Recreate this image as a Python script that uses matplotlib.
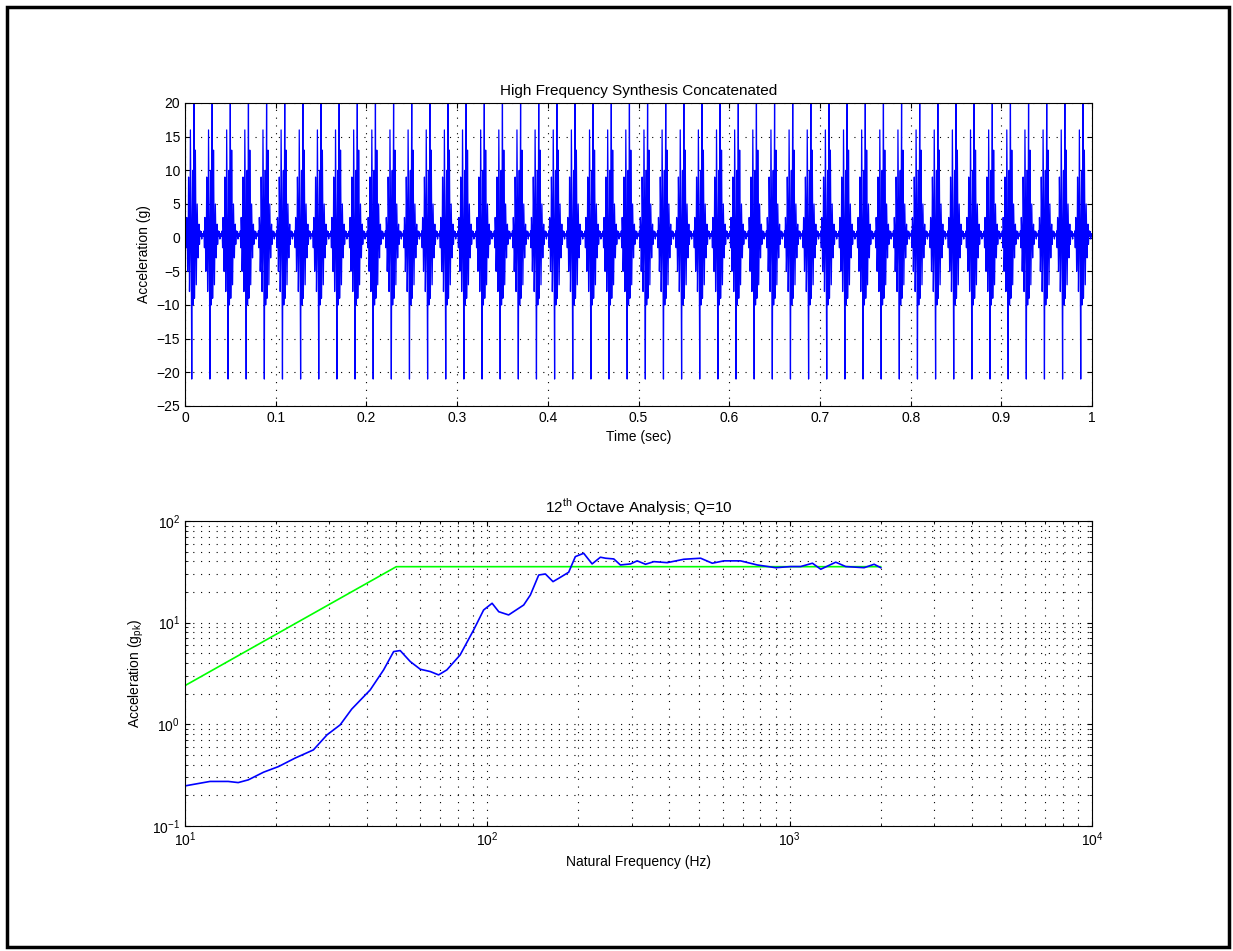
import numpy as np
import matplotlib.pyplot as plt
from matplotlib.patches import Rectangle

plt.rcParams['font.family'] = ['Liberation Sans', 'DejaVu Sans']
plt.rcParams['font.size'] = 10
plt.rcParams['axes.unicode_minus'] = True

# one pulse of the synthesized time history (g), sampled at 2000 samples/sec
pulse_accel = [0.5, 0.2, 1, -1.5, 3, 1, -5, -2, 9, 4,
               -8, -3, 16, 5, -4, -21, 2, 10, -10, 1,
               21, -9, -2, 13, 3, -7, -1, 5, 1, -3,
               0.5, 2, -1, 0.5, 1, 0.2, 0.9, -0.2, 0.6, 0.3]
sample_rate = 2000
n_pulses = 50

# 12th octave SRS (Q=10)
srs_freq = [10.1, 12.1, 13.9, 15.0, 16.2, 18.2, 20.4, 23.1, 26.6, 29.5,
            32.6, 35.6, 41.0, 45.4, 49.0, 51.5, 55.6, 60.0, 64.8, 69.0,
            73.5, 81.3, 90.1, 97.2, 103.7, 109.1, 117.6, 131.9, 138.8, 147.9,
            155.6, 164.9, 174.4, 185.8, 195.5, 208.3, 222.1, 236.6, 246.0, 262.0,
            275.5, 297.6, 313.0, 333.6, 355.6, 393.6, 446.7, 507.5, 554.5, 605.7,
            688.0, 781.6, 898.9, 1008, 1087, 1189, 1267, 1420, 1532, 1762,
            1902, 2000]
srs_accel = [0.249, 0.274, 0.274, 0.267, 0.284, 0.338, 0.384, 0.464, 0.56, 0.787,
             0.986, 1.41, 2.18, 3.43, 5.19, 5.31, 4.14, 3.48, 3.30, 3.06,
             3.43, 4.81, 8.47, 13.3, 15.5, 12.8, 11.9, 14.9, 18.7, 29.4,
             30.1, 25.3, 27.9, 31.3, 44.6, 48.1, 37.8, 44.0, 43.0, 42.3,
             36.9, 37.8, 40.5, 37.5, 39.8, 38.9, 42.0, 43.0, 38.4, 40.5,
             40.5, 36.9, 34.7, 35.6, 35.6, 38.4, 33.5, 39.3, 35.6, 34.7,
             37.5, 34.7]

# specification
spec_freq = [10, 50, 2000]
spec_accel = [2.4, 35.5, 35.5]

time_ticks = [0, 0.1, 0.2, 0.3, 0.4, 0.5, 0.6, 0.7, 0.8, 0.9, 1]
accel_ticks = [-25, -20, -15, -10, -5, 0, 5, 10, 15, 20]

accel = np.concatenate([pulse_accel] * n_pulses)
t = np.arange(len(accel)) / sample_rate

fig = plt.figure(figsize=(12.33, 9.51), dpi=100)

dots = (0, (1, 6))

# time history
ax1 = fig.add_axes([0.150, 0.5731, 0.7357, 0.3186])
ax1.plot(t, accel, color='b', lw=0.9)
ax1.set_xlim(0, 1)
ax1.set_ylim(-25, 20)
ax1.set_xticks(time_ticks)
ax1.set_xticklabels(['%g' % v for v in time_ticks])
ax1.set_yticks(accel_ticks)
ax1.grid(True, linestyle=dots, color='k', lw=0.8)
ax1.tick_params(direction='in', top=True, right=True)
ax1.set_title('High Frequency Synthesis Concatenated', fontsize=11)
ax1.set_xlabel('Time (sec)')
ax1.set_ylabel('Acceleration (g)')

# SRS
ax2 = fig.add_axes([0.150, 0.1315, 0.7357, 0.3207])
ax2.loglog(spec_freq, spec_accel, color=(0, 1, 0), lw=1.2)
ax2.loglog(srs_freq, srs_accel, color='b', lw=1.2)
ax2.set_xlim(10, 1e4)
ax2.set_ylim(0.1, 100)
ax2.grid(True, which='both', linestyle=dots, color='k', lw=0.8)
ax2.tick_params(which='both', direction='in', top=True, right=True)
ax2.set_title('12$^{\\mathregular{th}}$ Octave Analysis; Q=10', fontsize=11)
ax2.set_xlabel('Natural Frequency (Hz)')
ax2.set_ylabel('Acceleration (g$_{\\mathregular{pk}}$)')

# outer frame
fig.patches.append(Rectangle((0.0055, 0.004), 0.9915, 0.989, transform=fig.transFigure,
                             fill=False, edgecolor='k', lw=2.5))

fig.savefig('out.png', dpi=100)
